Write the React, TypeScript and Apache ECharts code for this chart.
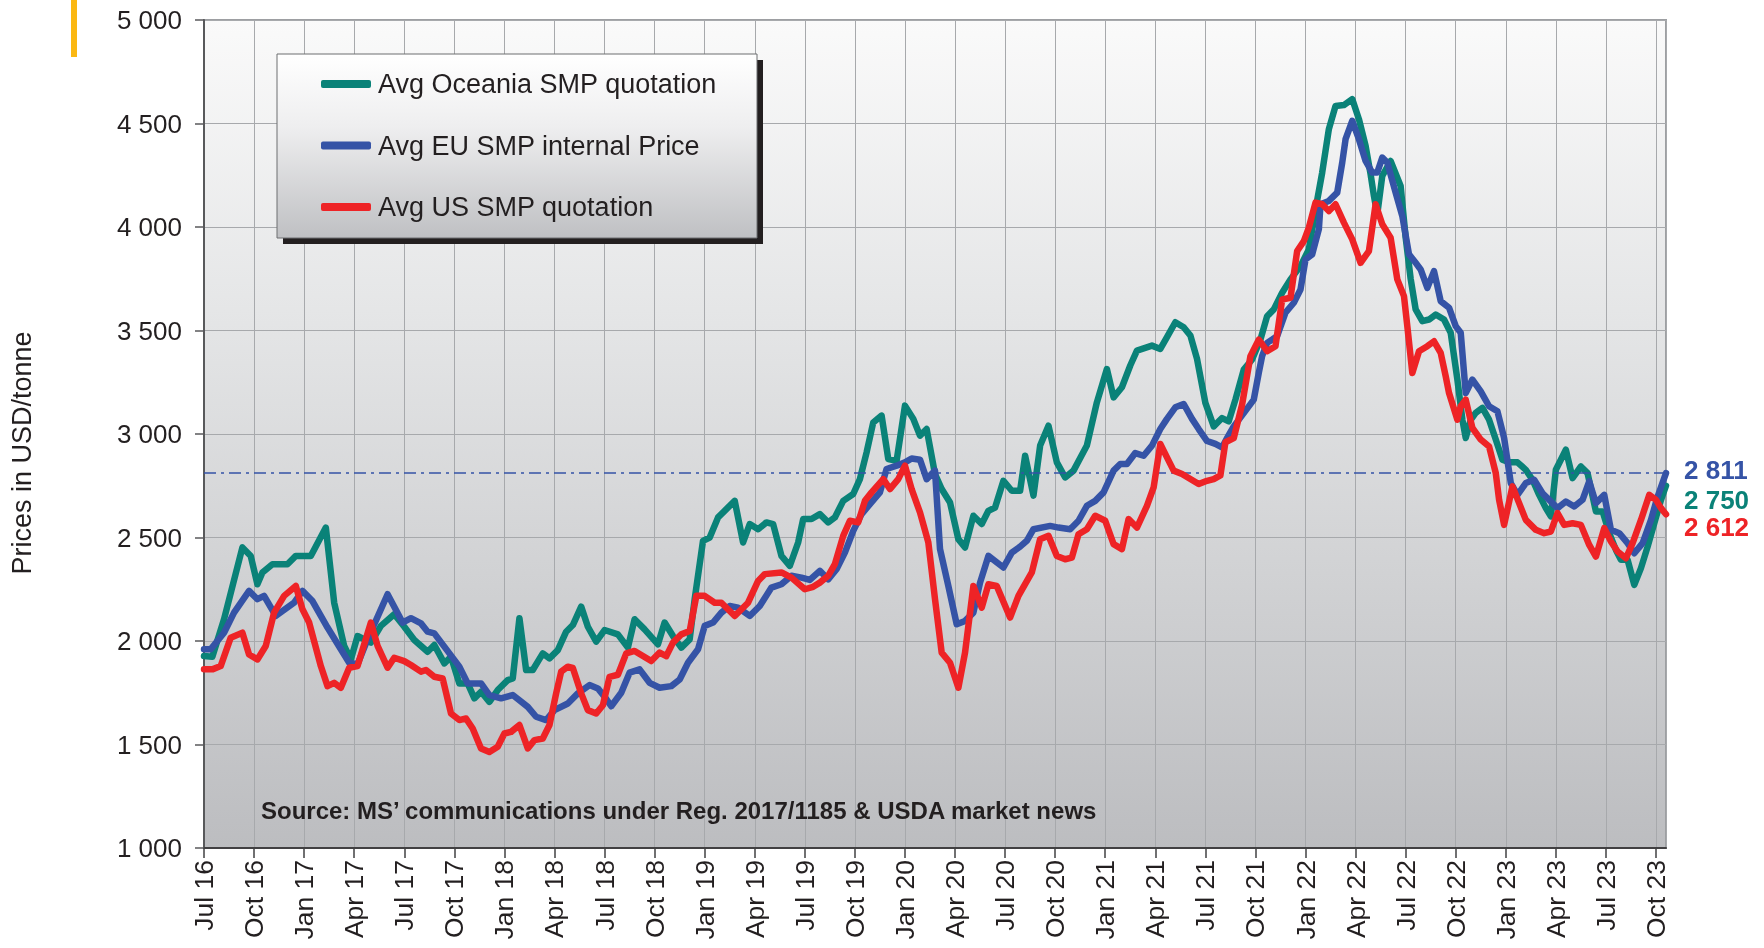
import { useEffect, useRef } from "react";
import * as echarts from "echarts";

// x values are months counted from Jul 2016 (0 = Jul 16)
const tickLabels = [
  "Jul 16", "Oct 16", "Jan 17", "Apr 17", "Jul 17", "Oct 17", "Jan 18", "Apr 18",
  "Jul 18", "Oct 18", "Jan 19", "Apr 19", "Jul 19", "Oct 19", "Jan 20", "Apr 20",
  "Jul 20", "Oct 20", "Jan 21", "Apr 21", "Jul 21", "Oct 21", "Jan 22", "Apr 22",
  "Jul 22", "Oct 22", "Jan 23", "Apr 23", "Jul 23", "Oct 23",
];

const seriesNames = ["Avg Oceania SMP quotation", "Avg EU SMP internal Price", "Avg US SMP quotation"];
const seriesColors = ["#0a8278", "#3553a6", "#ee2326"];
const referenceLevel = 2811;

const oceania: [number, number][] = [
  [0,1927],[0.5,1924],[1.2,2105],[2.3,2452],[2.8,2411],[3.2,2274],[3.5,2331],[4.1,2371],[5,2371],[5.5,2411],
  [6.4,2411],[7.3,2548],[7.8,2185],[8.4,1976],[8.8,1911],[9.2,2024],[10,1992],[10.6,2073],[11.4,2129],[12,2069],
  [12.6,2005],[13.4,1948],[13.8,1981],[14.4,1892],[14.8,1924],[15.3,1795],[15.8,1795],[16.2,1723],[16.6,1755],[17.1,1706],
  [17.6,1763],[18.2,1811],[18.5,1819],[18.9,2110],[19.3,1860],[19.7,1860],[20.3,1940],[20.7,1916],[21.2,1956],[21.7,2045],
  [22.1,2077],[22.6,2166],[23,2069],[23.5,1997],[24,2053],[24.8,2032],[25.4,1968],[25.8,2105],[26.4,2056],[27.2,1984],
  [27.6,2089],[28.1,2024],[28.6,1968],[29.1,2008],[29.4,2202],[29.9,2484],[30.3,2500],[30.8,2597],[31.3,2637],[31.8,2677],
  [32.3,2476],[32.7,2565],[33.2,2540],[33.7,2573],[34.1,2565],[34.6,2411],[35.1,2363],[35.6,2476],[35.9,2589],[36.4,2589],
  [36.9,2613],[37.4,2573],[37.8,2597],[38.3,2677],[38.9,2710],[39.3,2782],[39.7,2911],[40.1,3056],[40.6,3089],[41,2879],
  [41.5,2871],[42,3137],[42.5,3073],[42.9,2992],[43.3,3024],[43.8,2806],[44.2,2734],[44.7,2669],[45.2,2492],[45.6,2452],
  [46.1,2605],[46.6,2565],[47,2629],[47.4,2645],[47.9,2774],[48.4,2726],[48.9,2726],[49.2,2895],[49.7,2702],[50.1,2944],
  [50.6,3040],[51.1,2863],[51.6,2790],[52.1,2823],[52.9,2944],[53.5,3153],[54.1,3314],[54.5,3177],[55,3226],[55.5,3331],
  [55.9,3403],[56.8,3427],[57.3,3411],[57.7,3468],[58.2,3540],[58.7,3516],[59.1,3476],[59.5,3363],[60,3150],[60.5,3037],
  [61,3077],[61.4,3061],[61.8,3166],[62.3,3311],[62.8,3360],[63.3,3456],[63.7,3569],[64.1,3602],[64.6,3682],[65.1,3747],
  [65.7,3811],[66.2,3892],[66.6,4085],[67,4263],[67.4,4473],[67.8,4585],[68.3,4589],[68.8,4618],[69.2,4521],[69.6,4392],
  [69.9,4255],[70.1,4150],[70.3,4061],[70.6,4247],[71.1,4319],[71.7,4198],[72,3950],[72.3,3750],[72.6,3602],[73,3545],
  [73.4,3553],[73.8,3577],[74.3,3553],[74.7,3489],[75.1,3263],[75.4,3069],[75.6,2981],[75.9,3069],[76.2,3102],[76.6,3126],
  [77,3069],[77.4,2973],[77.8,2876],[78.2,2863],[78.7,2863],[79.2,2827],[79.6,2779],[80,2706],[80.4,2642],[80.7,2602],
  [81,2827],[81.6,2924],[82,2787],[82.5,2843],[82.9,2811],[83.4,2626],[83.8,2626],[84.2,2521],[84.6,2440],[84.9,2392],
  [85.3,2392],[85.7,2271],[86.1,2352],[86.5,2456],[86.9,2569],[87.3,2682],[87.6,2750],
];

const eu: [number, number][] = [
  [0,1960],[0.4,1960],[1.2,2040],[1.8,2137],[2.7,2242],[3.2,2202],[3.6,2218],[4.3,2121],[5.4,2185],[5.9,2242],
  [6.5,2193],[7.4,2065],[8.2,1960],[8.7,1895],[9.2,1887],[9.8,2008],[11,2226],[11.9,2089],[12.4,2110],[13,2085],
  [13.4,2045],[13.8,2037],[14.4,1973],[15.3,1876],[15.8,1795],[16.6,1795],[17.1,1739],[17.8,1723],[18.5,1739],[19.4,1682],
  [19.9,1634],[20.5,1618],[21,1666],[21.8,1698],[22.4,1747],[23.1,1787],[23.6,1771],[24,1731],[24.4,1685],[25,1750],
  [25.5,1847],[26.1,1863],[26.7,1798],[27.3,1774],[28,1782],[28.5,1814],[29,1895],[29.6,1960],[30,2073],[30.5,2089],
  [31,2137],[31.5,2169],[32,2161],[32.7,2121],[33.3,2169],[34,2258],[34.6,2274],[35.2,2315],[35.8,2306],[36.3,2295],
  [36.9,2339],[37.4,2298],[37.9,2347],[38.4,2427],[38.9,2532],[39.4,2613],[39.9,2661],[40.5,2718],[40.9,2831],[41.5,2847],
  [42,2863],[42.4,2882],[42.9,2876],[43.3,2782],[43.8,2823],[44.1,2444],[44.6,2266],[45.1,2081],[45.6,2097],[46.1,2137],
  [46.5,2282],[47,2411],[47.9,2355],[48.4,2427],[48.9,2456],[49.3,2484],[49.7,2540],[50.7,2556],[51.2,2548],[51.9,2540],
  [52.4,2581],[52.9,2653],[53.4,2677],[53.9,2718],[54.5,2823],[54.9,2855],[55.3,2855],[55.8,2908],[56.3,2895],[56.8,2944],
  [57.3,3024],[57.7,3073],[58.2,3129],[58.7,3145],[59.2,3073],[59.6,3024],[60.1,2966],[60.6,2952],[61,2935],[61.3,2980],
  [61.7,3037],[62.3,3101],[62.9,3166],[63.2,3295],[63.4,3376],[63.7,3440],[64.3,3473],[64.8,3586],[65.3,3634],[65.7,3698],
  [66,3843],[66.4,3868],[66.8,3989],[66.9,4110],[67.4,4126],[67.9,4166],[68.2,4311],[68.4,4424],[68.8,4513],[69.2,4424],
  [69.6,4319],[70,4263],[70.3,4263],[70.6,4335],[70.9,4311],[71.4,4166],[71.8,4053],[72.2,3868],[72.6,3827],[72.9,3795],
  [73.3,3706],[73.7,3787],[74.1,3642],[74.6,3610],[75,3521],[75.3,3489],[75.6,3198],[76,3263],[76.5,3206],[77,3134],
  [77.5,3110],[77.9,2981],[78.3,2763],[78.7,2706],[79.2,2763],[79.7,2779],[80.2,2714],[80.6,2682],[81.1,2642],[81.6,2674],
  [82.1,2650],[82.6,2682],[83,2771],[83.4,2666],[83.9,2706],[84.3,2537],[84.8,2521],[85.3,2473],[85.7,2424],[86.2,2473],
  [86.7,2585],[87.1,2698],[87.6,2811],
];

const us: [number, number][] = [
  [0,1863],[0.5,1863],[1,1879],[1.6,2016],[2.3,2040],[2.7,1935],[3.2,1911],[3.7,1976],[4.2,2137],[4.8,2218],
  [5.5,2266],[5.9,2153],[6.3,2089],[7,1879],[7.4,1782],[7.8,1798],[8.2,1774],[8.7,1871],[9.2,1879],[10,2089],
  [10.4,1976],[11,1871],[11.4,1919],[12,1903],[12.4,1884],[13,1852],[13.3,1860],[13.8,1827],[14.3,1819],[14.8,1650],
  [15.3,1618],[15.7,1626],[16.1,1577],[16.6,1481],[17.1,1464],[17.6,1489],[18,1553],[18.4,1561],[18.9,1594],[19.4,1481],
  [19.8,1521],[20.3,1529],[20.7,1594],[21.1,1747],[21.4,1852],[21.8,1876],[22.1,1870],[22.6,1747],[23,1666],[23.5,1650],
  [23.9,1690],[24.3,1827],[24.8,1837],[25.3,1940],[25.8,1952],[26.8,1903],[27.3,1944],[27.7,1927],[28.1,1992],[28.6,2032],
  [29.1,2048],[29.5,2218],[30,2218],[30.6,2185],[31,2185],[31.8,2121],[32.6,2185],[33.2,2290],[33.6,2323],[34.6,2331],
  [35.2,2306],[36,2250],[36.5,2262],[36.9,2282],[37.4,2315],[37.8,2371],[38.3,2508],[38.7,2581],[39.2,2573],[39.6,2677],
  [40,2718],[40.7,2782],[41.1,2734],[41.6,2782],[42,2847],[42.4,2734],[42.9,2621],[43.4,2476],[43.8,2202],[44.2,1944],
  [44.7,1895],[45.2,1774],[45.6,1944],[46.1,2266],[46.6,2161],[47,2274],[47.5,2266],[48.3,2113],[48.8,2218],[49.6,2331],
  [50.1,2492],[50.6,2508],[51.1,2411],[51.6,2395],[52,2403],[52.4,2516],[52.9,2540],[53.4,2605],[54,2581],[54.5,2468],
  [55,2444],[55.4,2589],[55.9,2548],[56.5,2653],[56.9,2742],[57.3,2952],[57.7,2887],[58.1,2823],[58.6,2807],[59.6,2758],
  [60.1,2774],[60.5,2782],[60.9,2800],[61.2,2960],[61.7,2980],[62.2,3142],[62.7,3376],[63.2,3456],[63.7,3400],[64.2,3424],
  [64.6,3650],[65.1,3658],[65.5,3884],[65.9,3932],[66.2,3997],[66.6,4118],[67,4110],[67.4,4077],[67.8,4110],[68.3,4021],
  [68.8,3940],[69.3,3827],[69.8,3884],[70.2,4110],[70.6,4013],[71.1,3948],[71.5,3747],[71.9,3666],[72.1,3521],[72.4,3295],
  [72.8,3400],[73.3,3424],[73.7,3448],[74.1,3392],[74.4,3279],[74.6,3198],[75.1,3069],[75.3,3134],[75.6,3166],[76,3029],
  [76.5,2973],[77,2940],[77.4,2811],[77.6,2682],[77.9,2561],[78.4,2747],[78.8,2666],[79.2,2585],[79.8,2537],[80.3,2521],
  [80.7,2529],[81.1,2618],[81.5,2561],[82,2569],[82.5,2561],[83,2464],[83.4,2408],[83.9,2545],[84.3,2481],[84.7,2432],
  [85.2,2400],[85.6,2473],[86.1,2585],[86.6,2706],[87,2682],[87.3,2642],[87.6,2612],
];

const seriesData = [oceania, eu, us];
const endLabelOffsets = [14, -3, 13];

const FONT = "'Liberation Sans', Arial, Helvetica, sans-serif";
const TEXT = "#231f20";

const fmtThousands = (v: number) => {
  const n = Math.round(v);
  const th = Math.floor(n / 1000);
  const rest = n % 1000;
  return th > 0 ? `${th} ${String(rest).padStart(3, "0")}` : String(rest);
};

export default function App() {
  const ref = useRef<HTMLDivElement>(null);

  useEffect(() => {
    if (!ref.current) return;
    const chart = echarts.init(ref.current, null, { renderer: "svg" });

    const series: any[] = seriesData.map((data, i) => ({
      name: seriesNames[i],
      type: "line",
      data,
      showSymbol: false,
      symbol: "none",
      z: 3 + i,
      lineStyle: { color: seriesColors[i], width: 6.5, cap: "round", join: "round" },
      itemStyle: { color: seriesColors[i] },
      endLabel: {
        show: true,
        formatter: (p: any) => fmtThousands(p.value[1]),
        color: seriesColors[i],
        fontFamily: FONT,
        fontWeight: "bold",
        fontSize: 26,
        distance: 18,
        offset: [0, endLabelOffsets[i]],
      },
    }));

    series[1].markLine = {
      silent: true,
      symbol: "none",
      label: { show: false },
      lineStyle: { color: "#3553a6", width: 1.5, type: [12, 5, 3, 5] },
      data: [{ yAxis: referenceLevel }],
    };

    chart.setOption({
      animation: false,
      textStyle: { fontFamily: FONT },
      grid: {
        left: 204,
        right: 98,
        top: 20,
        bottom: 100,
        show: true,
        borderColor: "#9d9fa2",
        borderWidth: 2,
        backgroundColor: new echarts.graphic.LinearGradient(0, 0, 0, 1, [
          { offset: 0, color: "#fafafa" },
          { offset: 0.35, color: "#e5e6e7" },
          { offset: 1, color: "#bcbdc0" },
        ]),
      },
      xAxis: {
        type: "value",
        min: 0,
        max: 87.6,
        interval: 3,
        axisLine: { show: true, lineStyle: { color: "#414042", width: 2 } },
        axisTick: { show: true, length: 10, lineStyle: { color: "#414042", width: 1.5 } },
        splitLine: { show: true, lineStyle: { color: "#a7a9ac", width: 1 } },
        axisLabel: {
          rotate: 90,
          margin: 12,
          fontSize: 26.5,
          color: TEXT,
          fontFamily: FONT,
          showMaxLabel: false,
          formatter: (v: number) => {
            const k = Math.round(v / 3);
            return Math.abs(v - k * 3) < 1e-6 && tickLabels[k] ? tickLabels[k] : "";
          },
        },
      },
      yAxis: {
        type: "value",
        min: 1000,
        max: 5000,
        interval: 500,
        axisLine: { show: true, lineStyle: { color: "#58595b", width: 2 } },
        axisTick: { show: true, length: 9, lineStyle: { color: "#58595b", width: 1.5 } },
        splitLine: { show: true, lineStyle: { color: "#a7a9ac", width: 1 } },
        axisLabel: {
          margin: 22,
          fontSize: 26,
          color: TEXT,
          fontFamily: FONT,
          formatter: (v: number) => fmtThousands(v),
        },
      },
      legend: {
        orient: "vertical",
        left: 321,
        top: 69,
        padding: 0,
        itemGap: 31.5,
        itemWidth: 50,
        itemHeight: 8,
        icon: "roundRect",
        selectedMode: false,
        z: 7,
        data: seriesNames,
        textStyle: { fontSize: 27, lineHeight: 30, color: TEXT, fontFamily: FONT, padding: [0, 0, 0, 2] },
      },
      graphic: [
        { type: "rect", z: 0, shape: { x: 71, y: 0, width: 6, height: 57 }, style: { fill: "#fbb813" } },
        { type: "rect", z: 5, shape: { x: 283, y: 60, width: 480, height: 184 }, style: { fill: "#231f20" } },
        {
          type: "rect",
          z: 6,
          shape: { x: 277, y: 54, width: 480, height: 184 },
          style: {
            fill: new echarts.graphic.LinearGradient(0, 0, 0, 1, [
              { offset: 0, color: "#ffffff" },
              { offset: 0.4, color: "#eeeeef" },
              { offset: 1, color: "#bfc0c3" },
            ]),
            stroke: "#6d6e71",
            lineWidth: 1,
          },
        },
        {
          type: "text",
          z: 6,
          x: 22,
          y: 453,
          rotation: Math.PI / 2,
          style: {
            text: "Prices in USD/tonne",
            fontSize: 27,
            fontFamily: FONT,
            fill: TEXT,
            align: "center",
            verticalAlign: "middle",
          },
        },
        {
          type: "text",
          z: 6,
          x: 261,
          y: 810,
          style: {
            text: "Source: MS\u2019 communications under Reg. 2017/1185 & USDA market news",
            fontSize: 24,
            fontWeight: "bold",
            fontFamily: FONT,
            fill: TEXT,
            align: "left",
            verticalAlign: "middle",
          },
        },
      ],
      series,
    });

    return () => chart.dispose();
  }, []);

  return (
    <div
      ref={ref}
      style={{ position: "fixed", left: 0, top: 0, width: 1764, height: 948 }}
    />
  );
}
